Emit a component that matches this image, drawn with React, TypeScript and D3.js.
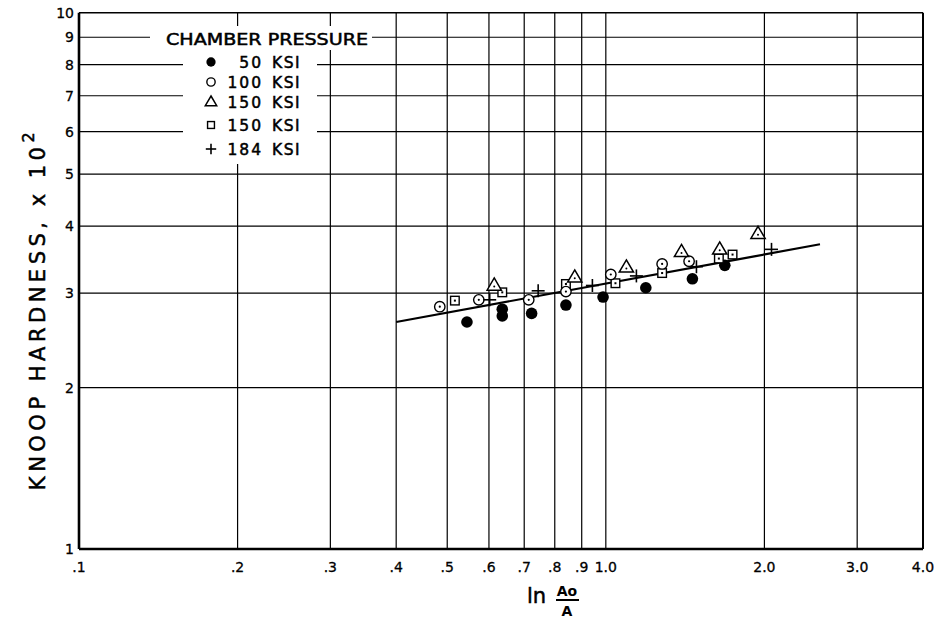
import React from 'react'
import * as d3 from 'd3'

const W = 937
const H = 621

// data: [ln(Ao/A), Knoop hardness x 10^2]
const ksi50 = [[0.545, 2.65], [0.636, 2.80], [0.636, 2.72], [0.723, 2.75], [0.840, 2.85], [0.988, 2.95], [1.191, 3.07], [1.46, 3.19], [1.682, 3.38]]
const ksi100 = [[0.484, 2.83], [0.574, 2.915], [0.714, 2.915], [0.840, 3.02], [1.022, 3.25], [1.279, 3.40], [1.439, 3.44]]
const ksi150tri = [[0.614, 3.10], [0.873, 3.21], [1.094, 3.35], [1.392, 3.58], [1.645, 3.62], [1.945, 3.87]]
const ksi150sq = [[0.517, 2.905], [0.636, 3.01], [0.840, 3.12], [1.043, 3.13], [1.279, 3.27], [1.639, 3.48], [1.74, 3.54]]
const ksi184 = [[0.602, 2.915], [0.744, 3.03], [0.943, 3.10], [1.143, 3.23], [1.486, 3.36], [2.063, 3.62]]

const fitLine = [[0.4, 2.65], [2.55, 3.70]]

const xTicks = [0.1, 0.2, 0.3, 0.4, 0.5, 0.6, 0.7, 0.8, 0.9, 1.0, 2.0, 3.0, 4.0]
const xTickLabels = ['.1', '.2', '.3', '.4', '.5', '.6', '.7', '.8', '.9', '1.0', '2.0', '3.0', '4.0']
const yTicks = [1, 2, 3, 4, 5, 6, 7, 8, 9, 10]

const legendItems = [
  { num: '50', sym: 'filled' },
  { num: '100', sym: 'circle' },
  { num: '150', sym: 'triangle' },
  { num: '150', sym: 'square' },
  { num: '184', sym: 'plus' },
]

const FONT = 'DejaVu Sans, sans-serif'

function Marker({ type, x, y, s = 1 }) {
  if (type === 'filled') return <circle cx={x} cy={y} r={5.8 * s} fill="#000" />
  if (type === 'circle') return (
    <g>
      <circle cx={x} cy={y} r={5.2 * s} fill="#fff" stroke="#000" strokeWidth={1.4} />
      {s === 1 && <circle cx={x} cy={y} r={1.1} fill="#000" />}
    </g>
  )
  if (type === 'triangle') {
    const a = 7.5 * s
    const pts = `${x},${y - a} ${x + a * 0.95},${y + a * 0.62} ${x - a * 0.95},${y + a * 0.62}`
    return (
      <g>
        <polygon points={pts} fill="#fff" stroke="#000" strokeWidth={1.5} strokeLinejoin="miter" />
        {s === 1 && <circle cx={x} cy={y + 1} r={1} fill="#000" />}
      </g>
    )
  }
  if (type === 'square') {
    const a = 4.3 * s
    return (
      <g>
        <rect x={x - a} y={y - a} width={2 * a} height={2 * a} fill="#fff" stroke="#000" strokeWidth={1.4} />
        {s === 1 && <rect x={x - 1} y={y - 1} width={2} height={2} fill="#000" />}
      </g>
    )
  }
  const a = 6.5 * s
  return (
    <g stroke="#000" strokeWidth={1.6}>
      <line x1={x - a} x2={x + a} y1={y} y2={y} />
      <line x1={x} x2={x} y1={y - a} y2={y + a} />
    </g>
  )
}

export default function App() {
  const x = d3.scaleLog().domain([0.1, 4]).range([79, 923])
  const y = d3.scaleLog().domain([1, 10]).range([549, 12.7])

  const line = d3.line<number[]>().x(d => x(d[0])).y(d => y(d[1]))

  const series = [
    { data: ksi50, type: 'filled' },
    { data: ksi150sq, type: 'square' },
    { data: ksi100, type: 'circle' },
    { data: ksi150tri, type: 'triangle' },
    { data: ksi184, type: 'plus' },
  ]

  const legendRowY = [62, 82, 102, 125, 149]
  const heavy = { stroke: '#000', strokeWidth: 0.5 }

  return (
    <svg width={W} height={H} style={{ position: 'absolute', left: 0, top: 0, background: '#fff' }} fontFamily={FONT}>
      <rect width={W} height={H} fill="#fff" />

      {/* grid */}
      {yTicks.slice(1, -1).map(t => (
        <line key={'gy' + t} x1={x(0.1)} x2={x(4)} y1={y(t)} y2={y(t)} stroke="#000" strokeWidth={1.2} />
      ))}
      {xTicks.slice(1, -1).map(t => (
        <line key={'gx' + t} x1={x(t)} x2={x(t)} y1={y(1)} y2={y(10)} stroke="#000" strokeWidth={1.2} />
      ))}

      {/* frame */}
      <line x1={x(0.1)} x2={x(4)} y1={y(10)} y2={y(10)} stroke="#000" strokeWidth={1.5} />
      <line x1={x(4)} x2={x(4)} y1={y(1)} y2={y(10)} stroke="#000" strokeWidth={2} />
      <line x1={x(0.1)} x2={x(4)} y1={y(1)} y2={y(1)} stroke="#000" strokeWidth={2.6} />
      <line x1={x(0.1)} x2={x(0.1)} y1={y(1)} y2={y(10)} stroke="#000" strokeWidth={2.6} />

      {/* legend background */}
      <rect x={150} y={26} width={222} height={24} fill="#fff" />
      <rect x={183} y={50} width={134} height={114} fill="#fff" />

      <text x={166} y={45} fontSize={15.5} textLength={202} lengthAdjust="spacingAndGlyphs" {...heavy}>CHAMBER PRESSURE</text>
      {legendItems.map((d, i) => (
        <g key={i}>
          <Marker type={d.sym} x={211} y={legendRowY[i]} s={0.8} />
          <text x={263} y={legendRowY[i] + 5.5} fontSize={15.5} textAnchor="end" letterSpacing={2} {...heavy}>{d.num}</text>
          <text x={272} y={legendRowY[i] + 5.5} fontSize={15.5} letterSpacing={1.5} {...heavy}>KSI</text>
        </g>
      ))}

      {/* fitted line */}
      <path d={line(fitLine) || ''} fill="none" stroke="#000" strokeWidth={2.2} />

      {/* points */}
      {series.map(s => s.data.map((d, i) => (
        <Marker key={s.type + i} type={s.type} x={x(d[0])} y={y(d[1])} />
      )))}

      {/* ticks */}
      {xTicks.map((t, i) => (
        <text key={'xt' + t} x={x(t)} y={572} fontSize={14} textAnchor="middle" {...heavy} strokeWidth={0.3}>{xTickLabels[i]}</text>
      ))}
      {yTicks.map(t => (
        <text key={'yt' + t} x={74} y={y(t) + 5} fontSize={14} textAnchor="end" {...heavy} strokeWidth={0.3}>{t}</text>
      ))}

      {/* axis titles */}
      <text transform="translate(45,309) rotate(-90)" fontSize={21} textAnchor="middle" letterSpacing={4.5} {...heavy}>
        KNOOP  HARDNESS,  x 10<tspan fontSize={16} dy={-11}>2</tspan>
      </text>
      <text x={527} y={603} fontSize={21} {...heavy}>ln</text>
      <text x={567} y={596} fontSize={14} fontWeight="bold" textAnchor="middle">Ao</text>
      <line x1={556} x2={579} y1={600} y2={600} stroke="#000" strokeWidth={2} />
      <text x={567} y={616} fontSize={14} fontWeight="bold" textAnchor="middle">A</text>
    </svg>
  )
}
